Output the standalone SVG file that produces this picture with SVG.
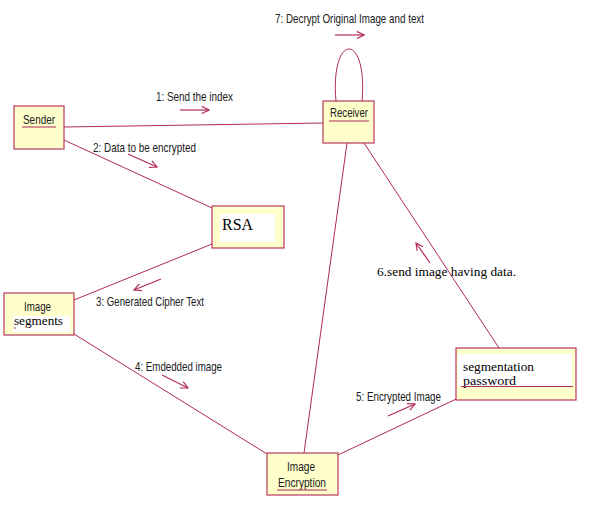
<svg xmlns="http://www.w3.org/2000/svg" width="599" height="509" viewBox="0 0 599 509">
<defs>
<style>
.box{fill:#ffffcc;stroke:#b8385e;stroke-width:1.2}
.ln{fill:none;stroke:#b02a58;stroke-width:1}
.ar{fill:none;stroke:#b02a58;stroke-width:1.2}
.lbl{font-family:"Liberation Sans",Arial,sans-serif;font-size:13px;fill:#202020}
.ser{font-family:"Liberation Serif","Times New Roman",serif;font-size:13.5px;fill:#000}
.ul{stroke:#b02a58;stroke-width:1.2}
.wh{fill:#ffffff}
</style>
<marker id="ah" viewBox="0 0 10 10" refX="9" refY="5" markerWidth="9" markerHeight="9" markerUnits="userSpaceOnUse" orient="auto">
<path d="M1,1 L9,5 L1,9" fill="none" stroke="#b02a58" stroke-width="1.3"/>
</marker>
</defs>
<rect width="599" height="509" fill="#ffffff"/>
<g id="connectors">
<line class="ln" x1="64" y1="127" x2="323" y2="123"/>
<path class="ln" d="M336,101 C333,70 340,49 349,49 C358,49 365,70 362,101"/>
<line class="ln" x1="64" y1="140" x2="212" y2="208"/>
<line class="ln" x1="74" y1="300" x2="212" y2="244"/>
<line class="ln" x1="74" y1="334" x2="267" y2="454"/>
<line class="ln" x1="338" y1="455" x2="471" y2="392"/>
<line class="ln" x1="347" y1="143" x2="304" y2="453"/>
<line class="ln" x1="364" y1="143" x2="499" y2="348"/>
<line class="ar" x1="335" y1="35" x2="364" y2="35" marker-end="url(#ah)"/>
<line class="ar" x1="180" y1="110" x2="209" y2="110" marker-end="url(#ah)"/>
<line class="ar" x1="128" y1="154" x2="157" y2="167" marker-end="url(#ah)"/>
<line class="ar" x1="161" y1="279" x2="134" y2="290" marker-end="url(#ah)"/>
<line class="ar" x1="162" y1="375" x2="188" y2="388" marker-end="url(#ah)"/>
<line class="ar" x1="388" y1="416" x2="415" y2="404" marker-end="url(#ah)"/>
<line class="ar" x1="430" y1="263" x2="416" y2="243" marker-end="url(#ah)"/>
<text class="lbl" x="275" y="23" textLength="149" lengthAdjust="spacingAndGlyphs">7: Decrypt Original Image and text</text>
<text class="lbl" x="156" y="101" textLength="77" lengthAdjust="spacingAndGlyphs">1: Send the index</text>
<text class="lbl" x="93" y="152" textLength="103" lengthAdjust="spacingAndGlyphs">2: Data to be encrypted</text>
<text class="lbl" x="96" y="306" textLength="108" lengthAdjust="spacingAndGlyphs">3: Generated Cipher Text</text>
<text class="lbl" x="135" y="371" textLength="87" lengthAdjust="spacingAndGlyphs">4: Emdedded image</text>
<text class="lbl" x="356" y="401" textLength="85" lengthAdjust="spacingAndGlyphs">5: Encrypted Image</text>
<text class="ser" x="377" y="276" textLength="139" lengthAdjust="spacingAndGlyphs">6.send image having data.</text>
</g>
<g id="sender">
<rect class="box" x="14" y="106" width="50" height="43"/>
<text class="lbl" x="23" y="124" textLength="32" lengthAdjust="spacingAndGlyphs">Sender</text>
<line class="ul" x1="22" y1="127" x2="56" y2="127"/>
</g>
<g id="receiver">
<rect class="box" x="323" y="101" width="51" height="42"/>
<text class="lbl" x="330" y="117" textLength="38" lengthAdjust="spacingAndGlyphs">Receiver</text>
<line class="ul" x1="329" y1="121" x2="369" y2="121"/>
</g>
<g id="rsa">
<rect class="box" x="212" y="206" width="72" height="42"/>
<rect class="wh" x="220" y="214" width="55" height="28"/>
<text class="ser" x="222" y="230" style="font-size:16px" textLength="31" lengthAdjust="spacingAndGlyphs">RSA</text>
</g>
<g id="image-segments">
<rect class="box" x="4" y="293" width="70" height="42"/>
<rect class="wh" x="13" y="316" width="57" height="16"/>
<text class="lbl" x="24" y="311" textLength="27" lengthAdjust="spacingAndGlyphs">Image</text>
<text class="ser" x="14" y="325" textLength="49" lengthAdjust="spacingAndGlyphs">segments</text>
<line class="ul" x1="14" y1="328" x2="16" y2="328"/>
</g>
<g id="segmentation-password">
<rect class="box" x="456" y="348" width="120" height="52"/>
<rect class="wh" x="458" y="354" width="114" height="32"/>
<text class="ser" x="463" y="371" textLength="71" lengthAdjust="spacingAndGlyphs">segmentation</text>
<text class="ser" x="463" y="385" textLength="53" lengthAdjust="spacingAndGlyphs">password</text>
<line class="ul" x1="461" y1="386.5" x2="573" y2="386.5"/>
</g>
<g id="image-encryption">
<rect class="box" x="267" y="453" width="71" height="42"/>
<text class="lbl" x="287" y="471" textLength="28" lengthAdjust="spacingAndGlyphs">Image</text>
<text class="lbl" x="278" y="487" textLength="48" lengthAdjust="spacingAndGlyphs">Encryption</text>
<line class="ul" x1="277" y1="490" x2="327" y2="490"/>
</g>
</svg>
